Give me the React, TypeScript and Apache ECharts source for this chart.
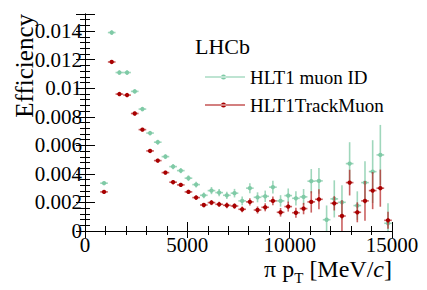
import React, { useEffect, useRef } from "react";
import * as echarts from "echarts";

const xCenters = [930, 1305, 1680, 2055, 2430, 2805, 3180, 3555, 3930, 4305, 4680, 5055, 5430, 5805, 6180, 6555, 6930, 7305, 7680, 8055, 8430, 8805, 9180, 9555, 9930, 10305, 10680, 11055, 11430, 11805, 12180, 12555, 12930, 13305, 13680, 14055, 14430, 14805];
const binHalfWidth = 187;

const muonIdEff = [0.00335, 0.0139, 0.0111, 0.0111, 0.00978, 0.00854, 0.00686, 0.00622, 0.00521, 0.00451, 0.00423, 0.0037, 0.00325, 0.0025, 0.00283, 0.00269, 0.0025, 0.00265, 0.00211, 0.003, 0.00236, 0.00243, 0.00307, 0.00211, 0.00248, 0.00229, 0.00239, 0.00349, 0.00351, 0.00079, 0.00225, 0.00201, 0.00472, 0.00178, 0.00339, 0.00416, 0.00533, 0.00054];
const muonIdErr = [0.0001, 0.00015, 0.00015, 0.00015, 0.00015, 0.00015, 0.00015, 0.00017, 0.00017, 0.00018, 0.00018, 0.0002, 0.0002, 0.0002, 0.00025, 0.00025, 0.00025, 0.0003, 0.0003, 0.00035, 0.00035, 0.0004, 0.00045, 0.0004, 0.0005, 0.0005, 0.00055, 0.00085, 0.0009, 0.001, 0.0013, 0.0012, 0.0015, 0.001, 0.0015, 0.0022, 0.0021, 0.0014];

const trackMuonEff = [0.00274, 0.01184, 0.00959, 0.00952, 0.00823, 0.0071, 0.00561, 0.00493, 0.00409, 0.00342, 0.00323, 0.00274, 0.00234, 0.00182, 0.00199, 0.00187, 0.0018, 0.00175, 0.00152, 0.00204, 0.00147, 0.00166, 0.00211, 0.00131, 0.00171, 0.00128, 0.00157, 0.00204, 0.00222, null, 0.00194, 0.00105, 0.00339, 0.00131, 0.00211, 0.00283, 0.003, 0.00075];
const trackMuonErr = [0.00008, 0.00012, 0.00012, 0.00012, 0.00012, 0.00012, 0.00012, 0.00013, 0.00013, 0.00014, 0.00014, 0.00015, 0.00015, 0.00015, 0.00018, 0.00018, 0.0002, 0.0002, 0.0002, 0.00025, 0.00025, 0.00028, 0.0003, 0.0003, 0.00035, 0.00035, 0.0004, 0.00075, 0.0007, 0, 0.0005, 0.0011, 0.0009, 0.0007, 0.0014, 0.0013, 0.0013, 0.0006];

const xTicks = { min: 0, max: 15000, interval: 5000 };
const yTicks = { min: 0, max: 0.0152, interval: 0.002 };

const FONT = "Liberation Serif";

function build(eff: (number | null)[], err: number[]) {
  const out: number[][] = [];
  for (let i = 0; i < xCenters.length; i++) {
    const v = eff[i];
    if (v === null || v === undefined) continue;
    out.push([xCenters[i], v, err[i]]);
  }
  return out;
}

function makeRender(marker: string, bar: string) {
  return (params: any, api: any) => {
    const x = api.value(0);
    const y = api.value(1);
    const e = api.value(2);
    const c = api.coord([x, y]);
    const lo = api.coord([x, y - e]);
    const hi = api.coord([x, y + e]);
    const l = api.coord([x - binHalfWidth, y]);
    const r = api.coord([x + binHalfWidth, y]);
    return {
      type: "group",
      children: [
        { type: "line", shape: { x1: c[0], y1: lo[1], x2: c[0], y2: hi[1] }, style: { stroke: bar, lineWidth: 1.6 } },
        { type: "line", shape: { x1: l[0], y1: c[1], x2: r[0], y2: c[1] }, style: { stroke: bar, lineWidth: 1.6 } },
        { type: "circle", shape: { cx: c[0], cy: c[1], r: 2.2 }, style: { fill: marker } },
      ],
    };
  };
}

const GREEN = "#7fcaa6";
const GREEN_BAR = "rgba(127,202,166,0.75)";
const RED = "#a80000";
const RED_BAR = "rgba(180,30,30,0.7)";

const legendIcon = "path://M0,2h40v1h-40z M16,2.5a2.5,2.5 0 1,0 5,0a2.5,2.5 0 1,0 -5,0z";

export default function App() {
  const ref = useRef<HTMLDivElement>(null);
  useEffect(() => {
    if (!ref.current) return;
    const chart = echarts.init(ref.current, null, { renderer: "svg" });
    const axisLine = { show: true, lineStyle: { color: "#000", width: 1 } };
    chart.setOption({
      animation: false,
      backgroundColor: "#fff",
      textStyle: { fontFamily: FONT },
      title: {
        text: "LHCb",
        left: 190,
        top: 30,
        textStyle: { fontFamily: FONT, fontSize: 22, fontWeight: "normal", color: "#000" },
      },
      legend: {
        orient: "vertical",
        left: 200,
        top: 62,
        itemWidth: 40,
        itemHeight: 5,
        itemGap: 8,
        textStyle: { fontFamily: FONT, fontSize: 19, color: "#000", lineHeight: 20 },
        data: [
          { name: "HLT1 muon ID", icon: legendIcon, itemStyle: { color: GREEN } },
          { name: "HLT1TrackMuon", icon: legendIcon, itemStyle: { color: RED } },
        ],
      },
      grid: { left: 85, right: 35, top: 14, bottom: 59, containLabel: false },
      xAxis: [
        {
          type: "value",
          ...xTicks,
          position: "bottom",
          axisLine,
          splitLine: { show: false },
          axisTick: { show: true, inside: true, length: 9, lineStyle: { color: "#000" } },
          minorTick: { show: true, splitNumber: 5, length: 5, lineStyle: { color: "#000" } },
          axisLabel: { fontFamily: FONT, fontSize: 21, color: "#000", margin: 3, formatter: (v: number) => String(v) },
        },
        {
          type: "value",
          ...xTicks,
          position: "top",
          axisLine,
          splitLine: { show: false },
          axisTick: { show: true, inside: true, length: 7, lineStyle: { color: "#000" } },
          minorTick: { show: true, splitNumber: 5, length: 4, lineStyle: { color: "#000" } },
          axisLabel: { show: false },
        },
      ],
      yAxis: [
        {
          type: "value",
          ...yTicks,
          position: "left",
          axisLine,
          splitLine: { show: false },
          axisTick: { show: true, inside: true, length: 10, lineStyle: { color: "#000" } },
          minorTick: { show: true, splitNumber: 5, length: 5, lineStyle: { color: "#000" } },
          axisLabel: {
            fontFamily: FONT,
            fontSize: 21,
            color: "#000",
            margin: 3,
            showMaxLabel: false,
            formatter: (v: number) => String(+v.toFixed(4)),
          },
        },
        {
          type: "value",
          ...yTicks,
          position: "right",
          axisLine,
          splitLine: { show: false },
          axisTick: { show: true, inside: true, length: 9, lineStyle: { color: "#000" } },
          minorTick: { show: true, splitNumber: 5, length: 5, lineStyle: { color: "#000" } },
          axisLabel: { show: false },
        },
      ],
      graphic: [
        {
          type: "text",
          x: 12,
          y: 14,
          rotation: Math.PI / 2,
          style: {
            text: "Efficiency",
            fontFamily: FONT,
            fontSize: 25,
            fill: "#000",
            align: "right",
            verticalAlign: "top",
          },
        },
        {
          type: "text",
          x: 392,
          y: 255,
          style: {
            text: "{a|π p}{s|T}{a| [MeV/}{i|c}{a|]}",
            fontFamily: FONT,
            fill: "#000",
            align: "right",
            verticalAlign: "top",
            rich: {
              a: { fontFamily: FONT, fontSize: 24, fill: "#000", lineHeight: 28 },
              s: { fontFamily: FONT, fontSize: 15, fill: "#000", padding: [18, 0, 0, 0], lineHeight: 28 },
              i: { fontFamily: FONT, fontSize: 24, fontStyle: "italic", fill: "#000", lineHeight: 28 },
            },
          },
        },
      ],
      series: [
        {
          name: "HLT1 muon ID",
          type: "custom",
          clip: true,
          itemStyle: { color: GREEN },
          renderItem: makeRender(GREEN, GREEN_BAR),
          encode: { x: 0, y: 1 },
          data: build(muonIdEff, muonIdErr),
        },
        {
          name: "HLT1TrackMuon",
          type: "custom",
          clip: true,
          itemStyle: { color: RED },
          renderItem: makeRender(RED, RED_BAR),
          encode: { x: 0, y: 1 },
          data: build(trackMuonEff, trackMuonErr),
        },
      ],
    });
    return () => chart.dispose();
  }, []);
  return <div ref={ref} style={{ position: "absolute", left: 0, top: 0, width: 427, height: 290 }} />;
}
